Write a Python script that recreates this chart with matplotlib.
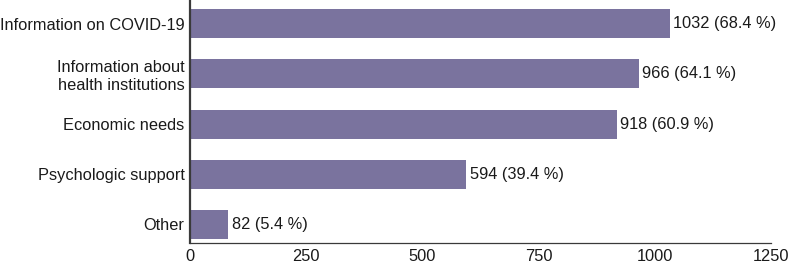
import matplotlib
matplotlib.use("Agg")
import matplotlib.pyplot as plt

categories = ["Information on COVID-19", "Information about\nhealth institutions",
              "Economic needs", "Psychologic support", "Other"]
counts = [1032, 966, 918, 594, 82]
percents = [68.4, 64.1, 60.9, 39.4, 5.4]
xticks = [0, 250, 500, 750, 1000, 1250]

plt.rcParams['font.family'] = ['Liberation Sans', 'DejaVu Sans']
fs = 11.8
fig = plt.figure(figsize=(7.96, 2.69), dpi=100)
ax = fig.add_axes([190/796, 26/269, 581/796, 243/269])

ypos = list(range(len(categories)))
ax.barh(ypos, counts, height=0.58, color="#7a739e")
for y, c, p in zip(ypos, counts, percents):
    ax.annotate(f"{c} ({p} %)", xy=(c, y), xytext=(2.5, 0), textcoords="offset points",
                va="center", ha="left", fontsize=fs, color="#1a1a1a")

ax.set_yticks(ypos)
ax.set_yticklabels(categories, fontsize=fs, color="#1a1a1a")
ax.set_xticks(xticks)
ax.set_xticklabels([str(t) for t in xticks], fontsize=fs, color="#1a1a1a")
ax.set_xlim(0, 1250)
ax.set_ylim(4.38, -0.48)
ax.tick_params(axis="x", length=0, pad=4)
ax.tick_params(axis="y", length=0, pad=4)
for s in ["top", "right"]:
    ax.spines[s].set_visible(False)
ax.spines["left"].set_linewidth(1.6)
ax.spines["left"].set_color("#3a3a3a")
ax.spines["bottom"].set_linewidth(0.9)
ax.spines["bottom"].set_color("#3a3a3a")

fig.savefig("out.png", dpi=100)
